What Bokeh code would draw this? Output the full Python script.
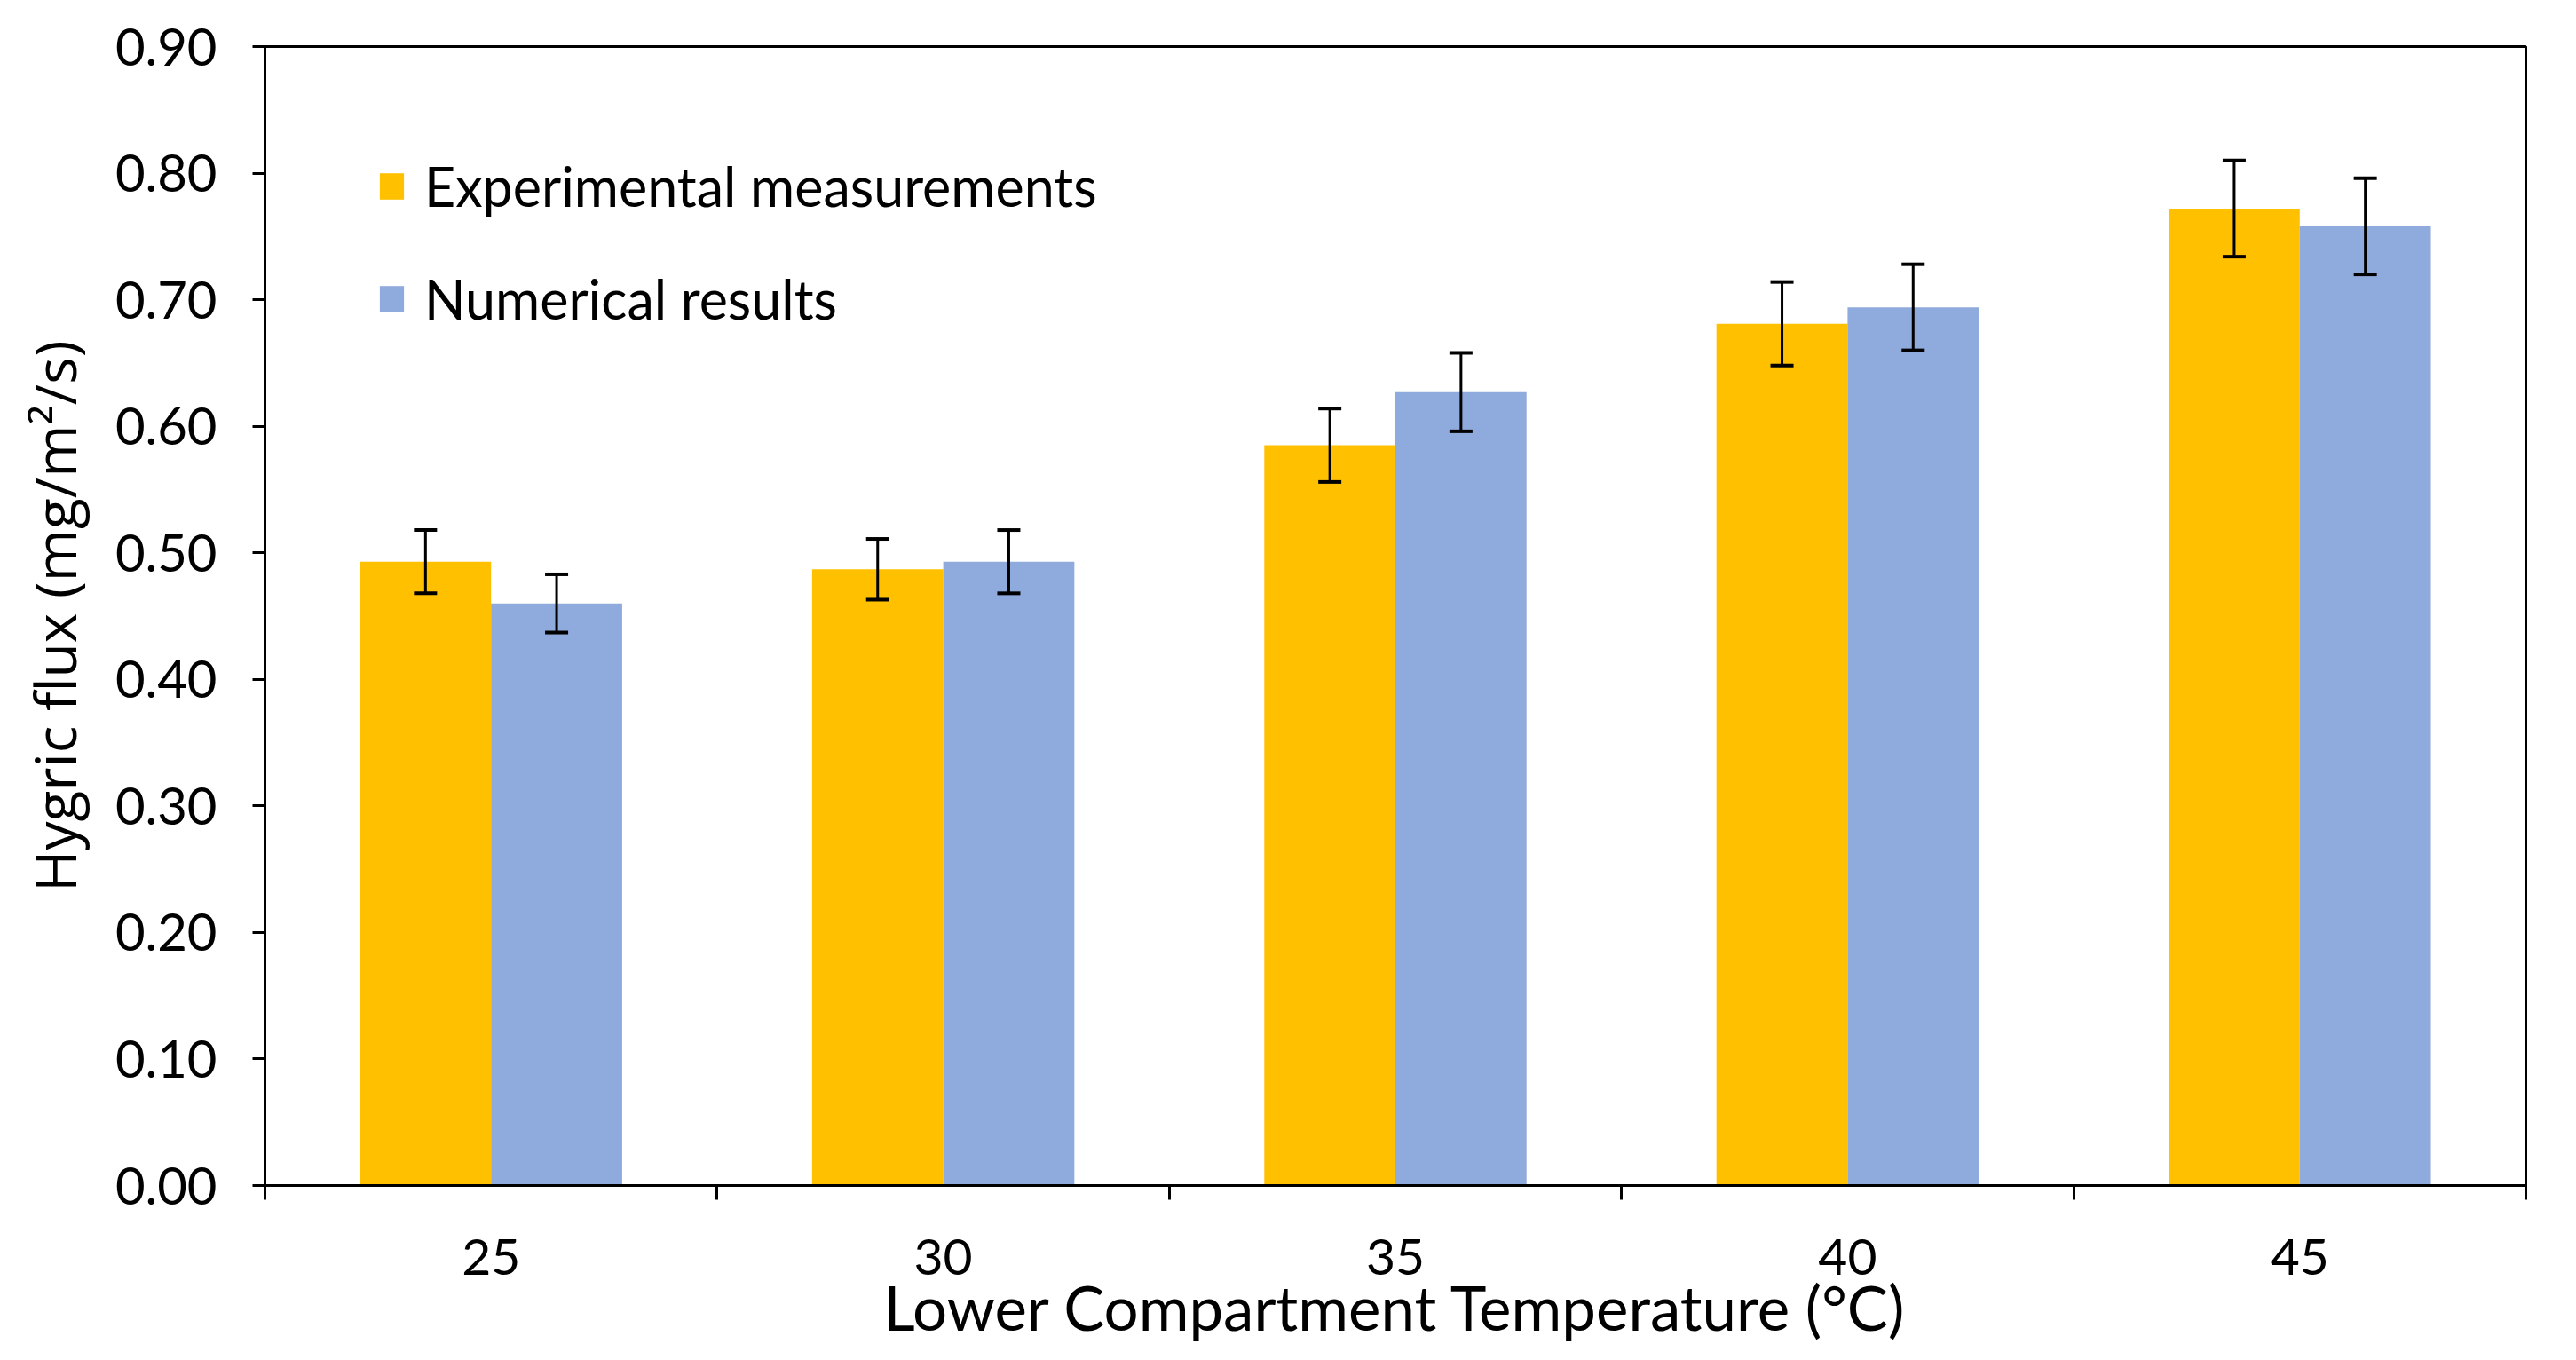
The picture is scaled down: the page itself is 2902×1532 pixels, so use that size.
from bokeh.plotting import figure
from bokeh.models import (ColumnDataSource, Whisker, TeeHead, FixedTicker, NumeralTickFormatter,
                          Legend, LegendItem, Range1d)
from bokeh.embed import file_html
from bokeh.resources import INLINE

# ---- data ----
temperatures = ["25", "30", "35", "40", "45"]
experimental = [0.493, 0.487, 0.585, 0.681, 0.772]
experimental_err = [0.025, 0.024, 0.029, 0.033, 0.038]
numerical = [0.460, 0.493, 0.627, 0.694, 0.758]
numerical_err = [0.023, 0.025, 0.031, 0.034, 0.038]

TICK_FONT = "Lato"
TITLE_FONT = "Open Sans"
ORANGE = "#FFC000"
BLUE = "#8FAADC"
BAR_W = 0.29

idx = list(range(len(temperatures)))
centers = [i + 0.5 for i in idx]
x_exp = [c - BAR_W / 2 for c in centers]
x_num = [c + BAR_W / 2 for c in centers]

src_exp = ColumnDataSource(dict(x=x_exp, top=experimental,
                                lower=[v - e for v, e in zip(experimental, experimental_err)],
                                upper=[v + e for v, e in zip(experimental, experimental_err)]))
src_num = ColumnDataSource(dict(x=x_num, top=numerical,
                                lower=[v - e for v, e in zip(numerical, numerical_err)],
                                upper=[v + e for v, e in zip(numerical, numerical_err)]))

W, H = 2886, 1516
p = figure(width=W, height=H, output_backend="svg", toolbar_location=None,
           x_range=Range1d(0, len(temperatures)), y_range=Range1d(0, 0.9),
           min_border_left=298, min_border_right=41, min_border_top=52, min_border_bottom=180)
p.background_fill_color = "white"
p.border_fill_color = "white"
p.grid.visible = False
p.outline_line_color = "black"
p.outline_line_width = 3

r_exp = p.vbar(x="x", top="top", width=BAR_W, bottom=0, source=src_exp,
               fill_color=ORANGE, line_color=None)
r_num = p.vbar(x="x", top="top", width=BAR_W, bottom=0, source=src_num,
               fill_color=BLUE, line_color=None)

for src in (src_exp, src_num):
    w = Whisker(base="x", lower="lower", upper="upper", source=src, level="overlay",
                line_color="black", line_width=3,
                upper_head=TeeHead(size=26, line_color="black", line_width=4),
                lower_head=TeeHead(size=26, line_color="black", line_width=4))
    p.add_layout(w)

# x axis: labels at group centres, tick marks at group boundaries
xa = p.xaxis[0]
xa.ticker = FixedTicker(ticks=centers, minor_ticks=[float(i) for i in range(len(temperatures) + 1)])
xa.major_label_overrides = {c: t for c, t in zip(centers, temperatures)}
xa.major_tick_line_color = None
xa.minor_tick_in = 0
xa.minor_tick_out = 16
xa.minor_tick_line_width = 3
xa.axis_line_width = 3
xa.axis_line_color = "black"
xa.major_label_standoff = 44
xa.major_label_text_font = TICK_FONT
xa.major_label_text_font_size = "57px"
xa.major_label_text_color = "black"
xa.axis_label = "Lower Compartment Temperature (°C)"
xa.axis_label_text_font = TICK_FONT
xa.axis_label_text_font_size = "69px"
xa.axis_label_text_font_style = "normal"
xa.axis_label_text_color = "black"
xa.axis_label_standoff = -8

ya = p.yaxis[0]
ya.ticker = FixedTicker(ticks=[i / 10 for i in range(10)], minor_ticks=[])
ya.formatter = NumeralTickFormatter(format="0.00")
ya.major_tick_in = 0
ya.major_tick_out = 14
ya.major_tick_line_width = 3
ya.axis_line_width = 3
ya.axis_line_color = "black"
ya.major_label_standoff = 40
ya.major_label_text_font = TICK_FONT
ya.major_label_text_font_size = "58px"
ya.major_label_text_color = "black"
ya.axis_label = "Hygric flux (mg/m²/s)"
ya.axis_label_text_font = TITLE_FONT
ya.axis_label_text_font_size = "64px"
ya.axis_label_text_font_style = "normal"
ya.axis_label_text_color = "black"
ya.axis_label_standoff = 22

legend = Legend(items=[LegendItem(label="Experimental measurements", renderers=[r_exp]),
                       LegendItem(label="Numerical results", renderers=[r_num])],
                location=(126, 962), orientation="vertical",
                glyph_width=34, glyph_height=37, label_standoff=20,
                label_text_font=TICK_FONT, label_text_font_size="61px", label_text_color="black",
                spacing=54, padding=0, margin=0,
                background_fill_alpha=0, border_line_color=None)
p.add_layout(legend, "center")

open("out.html", "w").write(file_html(p, INLINE))
